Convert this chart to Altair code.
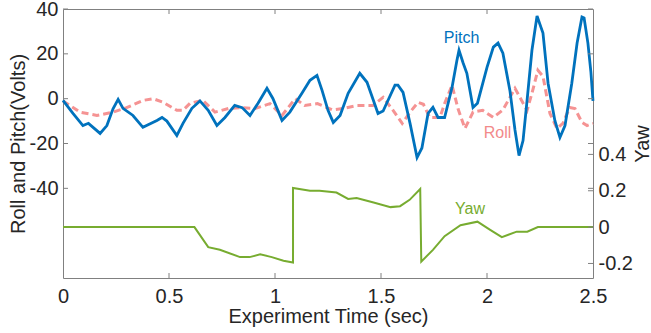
import altair as alt
import pandas as pd

# ---------------- data ----------------
pitch_t = [0, 0.047, 0.094, 0.12, 0.175, 0.207, 0.236, 0.26, 0.283, 0.33, 0.377, 0.443, 0.467, 0.49,
           0.537, 0.566, 0.608, 0.646, 0.685, 0.726, 0.764, 0.81, 0.845, 0.882, 0.92, 0.962, 0.99,
           1.033, 1.07, 1.127, 1.165, 1.198, 1.222, 1.25, 1.275, 1.307, 1.345, 1.4, 1.434, 1.486,
           1.51, 1.566, 1.58, 1.604, 1.637, 1.67, 1.693, 1.722, 1.745, 1.769, 1.8, 1.835, 1.858,
           1.868, 1.887, 1.905, 1.934, 1.955, 2.0, 2.03, 2.052, 2.075, 2.108, 2.132, 2.151, 2.17,
           2.189, 2.212, 2.236, 2.264, 2.288, 2.32, 2.344, 2.368, 2.4, 2.425, 2.448, 2.458, 2.476,
           2.49, 2.5]
pitch_v = [-0.8, -6.6, -12, -11, -15.5, -12, -4.5, -0.3, -4.3, -7.5, -12.8, -9.7, -8.4, -10,
           -16.4, -11, -4.3, -1, -5.2, -12, -8.4, -3, -4, -7.5, -2, 4.6, 0.1,
           -9.7, -6, 2.4, 8.2, 10.4, 3.7, -5.2, -10.6, -7.5, 2.4, 11.3, 7.3, -6.6,
           -5.5, 6, 6, 2.8, -11, -26.3, -22, -6.6, -3.9, -8.4, -8.4, 5, 17,
           21.6, 16, 11.3, -3.9, -2, 14, 23, 24.8, 20.3, 3.7, -14, -25.4, -18.7,
           -0.8, 21.6, 36.9, 29.3, 6.9, -9.7, -17.3, -12, 6.9, 24.8, 36.4, 36, 24.8,
           12, -1]

roll_t = [0, 0.08, 0.16, 0.236, 0.3, 0.377, 0.425, 0.472, 0.537, 0.566, 0.6, 0.646, 0.66, 0.717,
          0.78, 0.845, 0.906, 0.976, 1.033, 1.095, 1.14, 1.2, 1.27, 1.32, 1.387, 1.462, 1.51,
          1.557, 1.6, 1.637, 1.675, 1.7, 1.73, 1.778, 1.8, 1.835, 1.863, 1.896, 1.934, 1.98,
          2.03, 2.075, 2.132, 2.155, 2.189, 2.212, 2.24, 2.264, 2.297, 2.33, 2.358, 2.39, 2.415,
          2.448, 2.472, 2.5]
roll_v = [-1, -6, -7.5, -6, -4, -0.8, 0, -1.6, -5.2, -5.2, -2, -1, -0.8, -6,
          -4.4, -4, -4.4, -2.2, -7.5, 0, -3, -2.2, -5, -4.4, -3, -3, 0.6,
          -5.2, -11, -6, -1.6, -2.5, -8.4, -8.4, -2.2, 6, -4.4, -13.3, -6, -5.2,
          -8.4, -5, 4.6, 0.6, -5.2, 2.4, 12.7, 10, -6.6, -13.3, -11, -3.9, -4.4,
          -10.6, -12, -11]

yaw_t = [0, 0.62, 0.685, 0.74, 0.835, 0.88, 0.93, 0.985, 1.04, 1.085, 1.085, 1.165, 1.21, 1.29,
         1.345, 1.385, 1.465, 1.545, 1.59, 1.635, 1.685, 1.69, 1.745, 1.8, 1.875, 1.955, 2.015,
         2.07, 2.14, 2.19, 2.24, 2.5]
yaw_v = [0, 0, -0.11, -0.125, -0.165, -0.165, -0.15, -0.165, -0.185, -0.195, 0.215, 0.2, 0.2, 0.19,
         0.155, 0.16, 0.135, 0.11, 0.115, 0.15, 0.21, -0.19, -0.125, -0.05, 0.01, 0.03, -0.015,
         -0.055, -0.025, -0.025, 0, 0]

x_ticks = [0, 0.5, 1, 1.5, 2, 2.5]
x_inner_ticks = [0.5, 1, 1.5, 2]
left_ticks = [-40, -20, 0, 20, 40]
right_ticks = [-0.2, 0, 0.2, 0.4]

labels_left = ["Pitch", "Roll"]
labels_left_t = [1.88, 2.05]
labels_left_v = [27, -15.5]
labels_left_c = ["#0072BD", "#F28A8A"]
label_yaw_t = [1.92]
label_yaw_v = [0.10]

# ---------------- styling ----------------
FONT = "Liberation Sans"
TXT = "#262626"
AXC = "#808080"
BLUE = "#0072BD"
PINK = "#F59393"
GREEN = "#77AC30"
W, H = 530, 269

x_scale = alt.Scale(domain=[0, 2.5], nice=False, zero=False)
left_scale = alt.Scale(domain=[-80, 40], nice=False, zero=False)
right_scale = alt.Scale(domain=[-0.28, 1.2], nice=False, zero=False)

pitch_df = pd.DataFrame({"t": pitch_t, "v": pitch_v, "i": range(len(pitch_t))})
roll_df = pd.DataFrame({"t": roll_t, "v": roll_v, "i": range(len(roll_t))})
yaw_df = pd.DataFrame({"t": yaw_t, "v": yaw_v, "i": range(len(yaw_t))})
xt_df = pd.DataFrame({"t": x_inner_ticks})
lt_df = pd.DataFrame({"v": left_ticks})
rt_df = pd.DataFrame({"v": right_ticks})
lab_df = pd.DataFrame({"t": labels_left_t, "v": labels_left_v, "label": labels_left, "c": labels_left_c})
yawlab_df = pd.DataFrame({"t": label_yaw_t, "v": label_yaw_v, "label": ["Yaw"]})

common = dict(ticks=False, domain=False, grid=False, labelExpr="'' + datum.value",
              labelFontSize=20, labelFont=FONT, labelColor=TXT, labelFlush=False,
              labelOverlap=False, titleFontSize=20, titleFont=FONT, titleColor=TXT,
              titleFontWeight="normal")
x_axis = alt.Axis(values=x_ticks, title="Experiment Time (sec)", labelPadding=8,
                  titleY=38, titleBaseline="middle", **common)
left_axis = alt.Axis(values=left_ticks, title="Roll and Pitch(Volts)", labelPadding=5,
                     titleAngle=270, titleX=-45, titleY=H / 2, titleBaseline="middle",
                     titleAlign="center", **common)
right_axis = alt.Axis(values=right_ticks, title="Yaw", orient="right", labelPadding=5,
                      titleAngle=270, titleX=49, titleY=H / 2, titleBaseline="middle",
                      titleAlign="center", **common)

# every layer uses the same axis definition so that the shared axes merge cleanly
X = alt.X("t:Q", scale=x_scale, axis=x_axis)
YL = alt.Y("v:Q", scale=left_scale, axis=left_axis)
YR = alt.Y("v:Q", scale=right_scale, axis=right_axis)

roll = alt.Chart(roll_df).mark_line(color=PINK, strokeWidth=3, strokeDash=[7, 4]).encode(
    x=X, y=YL, order="i:Q")
pitch = alt.Chart(pitch_df).mark_line(color=BLUE, strokeWidth=2.8).encode(
    x=X, y=YL, order="i:Q")
lt_left = alt.Chart(lt_df).mark_rule(color=AXC, strokeWidth=1).encode(
    y=YL, x=alt.value(0), x2=alt.value(5))
lt_right = alt.Chart(lt_df).mark_rule(color=AXC, strokeWidth=1).encode(
    y=YL, x=alt.value(W - 5), x2=alt.value(W))
xt_bottom = alt.Chart(xt_df).mark_rule(color=AXC, strokeWidth=1).encode(
    x=X, y=alt.value(H - 5), y2=alt.value(H))
xt_top = alt.Chart(xt_df).mark_rule(color=AXC, strokeWidth=1).encode(
    x=X, y=alt.value(0), y2=alt.value(5))
labs = alt.Chart(lab_df).mark_text(font=FONT, fontSize=16, align="center", baseline="middle").encode(
    x=X, y=YL, text="label:N", color=alt.Color("c:N", scale=None))

left_group = alt.layer(roll, pitch, lt_left, lt_right, xt_bottom, xt_top, labs)

yaw = alt.Chart(yaw_df).mark_line(color=GREEN, strokeWidth=2).encode(
    x=X, y=YR, order="i:Q")
rt_right = alt.Chart(rt_df).mark_rule(color=AXC, strokeWidth=1).encode(
    y=YR, x=alt.value(W - 5), x2=alt.value(W))
yawlab = alt.Chart(yawlab_df).mark_text(font=FONT, fontSize=16, align="center", baseline="middle",
                                        color=GREEN).encode(x=X, y=YR, text="label:N")
right_group = alt.layer(yaw, rt_right, yawlab)

chart = alt.layer(left_group, right_group).resolve_scale(y="independent").properties(
    width=W, height=H, autosize="none",
    padding={"left": 63, "top": 9, "right": 58, "bottom": 55},
    background="white",
).configure_view(stroke=AXC, strokeWidth=1)

chart.save("out.html", embed_options={"renderer": "svg", "actions": False})
